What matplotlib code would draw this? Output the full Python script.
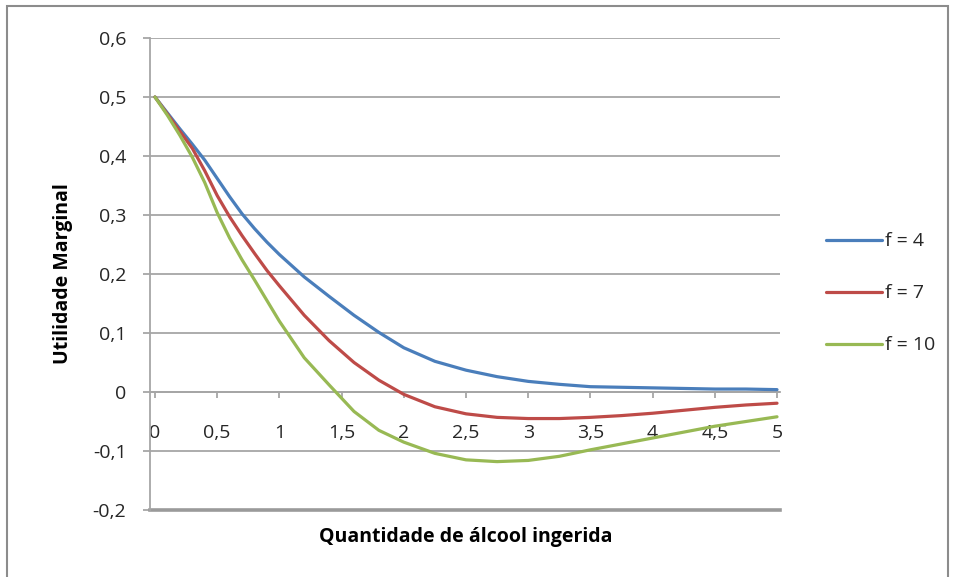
import matplotlib.pyplot as plt
from matplotlib.patches import Rectangle

# Readings from the chart (finer steps where the curves are steep)
x = [0, 0.1, 0.2, 0.3, 0.4, 0.5, 0.6, 0.7, 0.8, 0.9, 1.0,
     1.2, 1.4, 1.6, 1.8, 2.0, 2.25, 2.5, 2.75, 3.0, 3.25,
     3.5, 3.75, 4.0, 4.25, 4.5, 4.75, 5.0]

f4 = [0.5, 0.473, 0.446, 0.42, 0.393, 0.362, 0.331, 0.302, 0.277, 0.254, 0.233,
      0.195, 0.162, 0.13, 0.101, 0.075, 0.052, 0.037, 0.026, 0.018, 0.013,
      0.009, 0.008, 0.007, 0.006, 0.005, 0.005, 0.004]
f7 = [0.5, 0.471, 0.442, 0.413, 0.375, 0.333, 0.297, 0.265, 0.235, 0.206, 0.18,
      0.13, 0.087, 0.05, 0.02, -0.004, -0.025, -0.037, -0.043, -0.045, -0.045,
      -0.043, -0.04, -0.036, -0.031, -0.026, -0.022, -0.019]
f10 = [0.5, 0.469, 0.435, 0.398, 0.355, 0.304, 0.261, 0.224, 0.19, 0.155, 0.12,
       0.058, 0.012, -0.033, -0.065, -0.085, -0.104, -0.115, -0.118, -0.116, -0.109,
       -0.098, -0.088, -0.078, -0.068, -0.058, -0.05, -0.042]

series_labels = ['f = 4', 'f = 7', 'f = 10']
series_colors = ['#4A7EBB', '#BE4B48', '#98B954']

yticks = [0.6, 0.5, 0.4, 0.3, 0.2, 0.1, 0, -0.1, -0.2]
ytick_labels = ['0,6', '0,5', '0,4', '0,3', '0,2', '0,1', '0', '-0,1', '-0,2']
xticks = [0, 0.5, 1, 1.5, 2, 2.5, 3, 3.5, 4, 4.5, 5]
xtick_labels = ['0', '0,5', '1', '1,5', '2', '2,5', '3', '3,5', '4', '4,5', '5']

plt.rcParams['font.family'] = ['Open Sans', 'DejaVu Sans']
grid_col = '#A6A6A6'

fig = plt.figure(figsize=(9.57, 5.77), dpi=100)
ax = fig.add_axes([150 / 957, 1 - 510 / 577, 630 / 957, 472 / 577])

# outer chart border
fig.patches.append(Rectangle((7 / 957, -0.05), 941 / 957, 1.04, transform=fig.transFigure,
                             fill=False, edgecolor='#8C8C8C', linewidth=1.5))

for ys, lab, col in zip([f4, f7, f10], series_labels, series_colors):
    ax.plot(x, ys, color=col, linewidth=2.3, label=lab, solid_capstyle='round',
            solid_joinstyle='round', zorder=3)

ax.set_xlim(-0.04, 5.024)
ax.set_ylim(-0.2, 0.6)

ax.set_yticks(yticks)
ax.set_yticklabels(ytick_labels)
ax.set_xticks(xticks)
ax.set_xticklabels(xtick_labels)

ax.grid(axis='y', color=grid_col, linewidth=1.3)
ax.set_axisbelow(True)
ax.axhline(-0.2, color='#9A9A9A', linewidth=2.6, clip_on=False, zorder=1)

ax.spines['top'].set_visible(False)
ax.spines['right'].set_visible(False)
ax.spines['left'].set_color(grid_col)
ax.spines['left'].set_linewidth(1.3)
ax.spines['bottom'].set_position(('data', 0))
ax.spines['bottom'].set_color(grid_col)
ax.spines['bottom'].set_linewidth(1.3)

ax.tick_params(axis='y', direction='out', length=5, width=1.3, color=grid_col,
               pad=12, labelsize=14, labelcolor='#262626')
ax.tick_params(axis='x', direction='out', length=4, width=1.3, color=grid_col,
               pad=19, labelsize=14, labelcolor='#262626')

ax.set_ylabel('Utilidade Marginal', fontsize=14, fontweight='bold', labelpad=14)
fig.text(466 / 957, 1 - 537 / 577, 'Quantidade de álcool ingerida', fontsize=14,
         fontweight='bold', ha='center', va='center')

ax.legend(loc='center left', bbox_to_anchor=(1.045, 0.459), frameon=False, fontsize=14,
          handlelength=2.9, handletextpad=0.15, labelspacing=1.75, labelcolor='#262626')

fig.savefig('out.png', dpi=100)
